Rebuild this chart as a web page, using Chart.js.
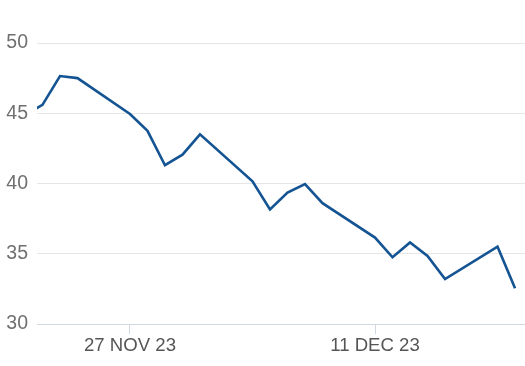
<!DOCTYPE html>
<html>
<head>
<meta charset="utf-8">
<script src="https://cdn.jsdelivr.net/npm/chart.js@4"></script>
<style>
  html, body { margin: 0; padding: 0; background: #fff; }
  #wrap { width: 525px; height: 366px; position: relative; }
</style>
</head>
<body>
<div id="wrap"><canvas id="priceChart"></canvas></div>
<script>
// trading days (weekends skipped) and closing values
const dates = [
  '2023-11-21', '2023-11-22', '2023-11-23', '2023-11-24',
  '2023-11-27', '2023-11-28', '2023-11-29', '2023-11-30', '2023-12-01',
  '2023-12-04', '2023-12-05', '2023-12-06', '2023-12-07', '2023-12-08',
  '2023-12-11', '2023-12-12', '2023-12-13', '2023-12-14', '2023-12-15',
  '2023-12-18', '2023-12-19'
];
const values = [
  44.9, 45.6, 47.65, 47.5,
  44.95, 43.75, 41.3, 42.05, 43.5,
  40.15, 38.15, 39.35, 39.95, 38.6,
  36.15, 34.75, 35.8, 34.85, 33.2,
  35.5, 32.55
];

// x axis ticks
const xTickDates = ['2023-11-27', '2023-12-11'];
const xTickLabels = ['27 NOV 23', '11 DEC 23'];
// visible window (the first day is partly cut off on the left)
const xRange = ['2023-11-21T16:30', '2023-12-19T13:40'];

// y axis ticks
const yTicks = [30, 35, 40, 45, 50];

// --- helpers ---
const DAY = 86400000;
const BASE = Date.UTC(2023, 10, 1);
function dayNum(s) {
  const d = new Date(s + (s.length > 10 ? ':00Z' : 'T00:00:00Z'));
  return (d.getTime() - BASE) / DAY;
}

const points = dates.map((d, i) => ({ x: dayNum(d), y: values[i] }));
const xTickValues = xTickDates.map(dayNum);

const ctx = document.getElementById('priceChart').getContext('2d');

new Chart(ctx, {
  type: 'line',
  data: {
    datasets: [{
      data: points,
      borderColor: '#145493',
      borderWidth: 2.6,
      pointRadius: 0,
      tension: 0,
      fill: false,
      clip: 0
    }]
  },
  options: {
    responsive: true,
    maintainAspectRatio: false,
    animation: false,
    layout: { padding: { top: 43, right: 0, bottom: 0, left: 0 } },
    plugins: { legend: { display: false }, tooltip: { enabled: false } },
    scales: {
      x: {
        type: 'linear',
        min: dayNum(xRange[0]),
        max: dayNum(xRange[1]),
        afterBuildTicks: (scale) => {
          scale.ticks = xTickValues.map(v => ({ value: v }));
        },
        afterFit: (scale) => { scale.height = 42; },
        border: { display: true, color: '#d2d8df', width: 1 },
        grid: {
          drawOnChartArea: false,
          drawTicks: true,
          tickLength: 10,
          color: '#d2d8df'
        },
        ticks: {
          autoSkip: false,
          maxRotation: 0,
          padding: 1,
          color: '#555555',
          font: { family: 'Liberation Sans, Arial, sans-serif', size: 18.6 },
          callback: (val) => {
            const i = xTickValues.indexOf(val);
            return i >= 0 ? xTickLabels[i] : '';
          }
        }
      },
      y: {
        min: 30,
        max: 50,
        afterBuildTicks: (scale) => {
          scale.ticks = yTicks.map(v => ({ value: v }));
        },
        afterFit: (scale) => { scale.width = 37; },
        border: { display: false },
        grid: {
          drawTicks: false,
          color: '#e6e6e6',
          lineWidth: 1
        },
        ticks: {
          padding: 9,
          color: '#707070',
          font: { family: 'Liberation Sans, Arial, sans-serif', size: 19.5 }
        }
      }
    }
  }
});
</script>
</body>
</html>
